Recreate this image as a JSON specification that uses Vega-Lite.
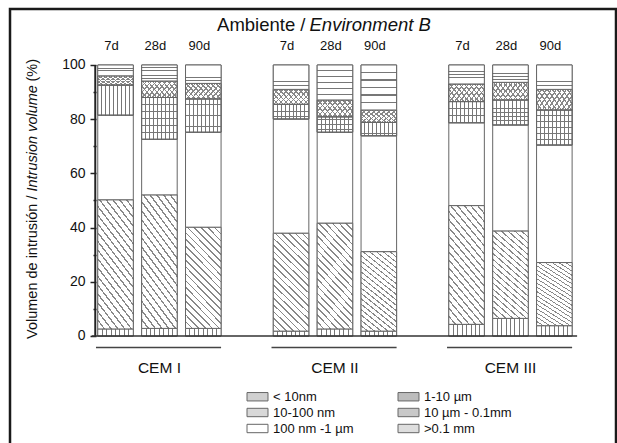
{
"$schema":"https://vega.github.io/schema/vega-lite/v6.json",
"width":606,"height":439,
"padding":{"left":10,"top":9,"right":1,"bottom":0},
"autosize":{"type":"none"},
"background":"white",
"config":{"view":{"stroke":"#1a1a1a","strokeWidth":2.5},"font":"Liberation Sans","axis":{"labelFont":"Liberation Sans","titleFont":"Liberation Sans"},"legend":{"labelFont":"Liberation Sans"}},
"datasets":{"d":[
{"slot":"CEM I|7d","size":"< 10nm","k":1,"v":2.6},{"slot":"CEM I|7d","size":"10-100 nm","k":2,"v":47.6},{"slot":"CEM I|7d","size":"100 nm -1 µm","k":3,"v":31.3},{"slot":"CEM I|7d","size":"1-10 µm","k":4,"v":11.1},{"slot":"CEM I|7d","size":"10 µm - 0.1mm","k":5,"v":3.4},{"slot":"CEM I|7d","size":">0.1 mm","k":6,"v":4.0},
{"slot":"CEM I|28d","size":"< 10nm","k":1,"v":2.8},{"slot":"CEM I|28d","size":"10-100 nm","k":2,"v":49.2},{"slot":"CEM I|28d","size":"100 nm -1 µm","k":3,"v":20.6},{"slot":"CEM I|28d","size":"1-10 µm","k":4,"v":15.4},{"slot":"CEM I|28d","size":"10 µm - 0.1mm","k":5,"v":6.1},{"slot":"CEM I|28d","size":">0.1 mm","k":6,"v":5.9},
{"slot":"CEM I|90d","size":"< 10nm","k":1,"v":2.8},{"slot":"CEM I|90d","size":"10-100 nm","k":2,"v":37.3},{"slot":"CEM I|90d","size":"100 nm -1 µm","k":3,"v":35.1},{"slot":"CEM I|90d","size":"1-10 µm","k":4,"v":12.3},{"slot":"CEM I|90d","size":"10 µm - 0.1mm","k":5,"v":5.7},{"slot":"CEM I|90d","size":">0.1 mm","k":6,"v":6.8},
{"slot":"CEM II|7d","size":"< 10nm","k":1,"v":1.8},{"slot":"CEM II|7d","size":"10-100 nm","k":2,"v":36.1},{"slot":"CEM II|7d","size":"100 nm -1 µm","k":3,"v":42.2},{"slot":"CEM II|7d","size":"1-10 µm","k":4,"v":5.4},{"slot":"CEM II|7d","size":"10 µm - 0.1mm","k":5,"v":5.5},{"slot":"CEM II|7d","size":">0.1 mm","k":6,"v":9.0},
{"slot":"CEM II|28d","size":"< 10nm","k":1,"v":2.6},{"slot":"CEM II|28d","size":"10-100 nm","k":2,"v":39.0},{"slot":"CEM II|28d","size":"100 nm -1 µm","k":3,"v":33.6},{"slot":"CEM II|28d","size":"1-10 µm","k":4,"v":5.7},{"slot":"CEM II|28d","size":"10 µm - 0.1mm","k":5,"v":6.2},{"slot":"CEM II|28d","size":">0.1 mm","k":6,"v":12.9},
{"slot":"CEM II|90d","size":"< 10nm","k":1,"v":1.8},{"slot":"CEM II|90d","size":"10-100 nm","k":2,"v":29.3},{"slot":"CEM II|90d","size":"100 nm -1 µm","k":3,"v":42.8},{"slot":"CEM II|90d","size":"1-10 µm","k":4,"v":4.9},{"slot":"CEM II|90d","size":"10 µm - 0.1mm","k":5,"v":4.6},{"slot":"CEM II|90d","size":">0.1 mm","k":6,"v":16.6},
{"slot":"CEM III|7d","size":"< 10nm","k":1,"v":4.3},{"slot":"CEM III|7d","size":"10-100 nm","k":2,"v":43.8},{"slot":"CEM III|7d","size":"100 nm -1 µm","k":3,"v":30.6},{"slot":"CEM III|7d","size":"1-10 µm","k":4,"v":7.8},{"slot":"CEM III|7d","size":"10 µm - 0.1mm","k":5,"v":6.5},{"slot":"CEM III|7d","size":">0.1 mm","k":6,"v":7.0},
{"slot":"CEM III|28d","size":"< 10nm","k":1,"v":6.5},{"slot":"CEM III|28d","size":"10-100 nm","k":2,"v":32.2},{"slot":"CEM III|28d","size":"100 nm -1 µm","k":3,"v":39.2},{"slot":"CEM III|28d","size":"1-10 µm","k":4,"v":9.2},{"slot":"CEM III|28d","size":"10 µm - 0.1mm","k":5,"v":6.5},{"slot":"CEM III|28d","size":">0.1 mm","k":6,"v":6.4},
{"slot":"CEM III|90d","size":"< 10nm","k":1,"v":3.8},{"slot":"CEM III|90d","size":"10-100 nm","k":2,"v":23.3},{"slot":"CEM III|90d","size":"100 nm -1 µm","k":3,"v":43.4},{"slot":"CEM III|90d","size":"1-10 µm","k":4,"v":12.9},{"slot":"CEM III|90d","size":"10 µm - 0.1mm","k":5,"v":7.6},{"slot":"CEM III|90d","size":">0.1 mm","k":6,"v":9.0}
]},
"layer":[
{
"data":{"name":"d"},
"transform":[{"stack":"v","groupby":["slot"],"sort":[{"field":"k","order":"ascending"}],"as":["y0","y1"]}],
"mark":{"type":"bar","stroke":"#666","strokeWidth":1},
"encoding":{
"x":{"field":"slot","type":"nominal","sort":null,
"scale":{"domain":["pad1","pad2","CEM I|7d","CEM I|28d","CEM I|90d","gap1","CEM II|7d","CEM II|28d","CEM II|90d","gap2","CEM III|7d","CEM III|28d","CEM III|90d","pad3"],"paddingInner":0.19,"paddingOuter":0,"align":0.5},
"axis":{"orient":"top","offset":-42,"domain":false,"ticks":false,"grid":false,"labelPadding":2,"labelBaseline":"alphabetic","labelAngle":0,"labelFontSize":13,"labelColor":"#111","labelOffset":-4,"labelExpr":"indexof(datum.label,'|') > 0 ? slice(datum.label, indexof(datum.label,'|') + 1) : ''","title":null}},
"y":{"field":"y0","type":"quantitative","scale":{"domain":[-41.33,120.66],"nice":false,"zero":false},
"axis":{"orient":"left","offset":-86,"values":[0,20,40,60,80,100],"domain":false,"grid":false,"ticks":true,"tickSize":6,"tickColor":"#222","tickWidth":1.5,"labelPadding":5,"labelFontSize":14,"labelColor":"#111","title":null}},
"y2":{"field":"y1"},
"fill":{"field":"size","type":"nominal",
"scale":{"domain":["< 10nm","10-100 nm","100 nm -1 µm","1-10 µm","10 µm - 0.1mm",">0.1 mm"],"range":["#d0d0d0","#d8d8d8","#ffffff","#bdbdbd","#c8c8c8","#dedede"]},
"legend":{"orient":"none","legendX":241,"legendY":381,"columns":2,"columnPadding":42,"rowPadding":2,"symbolType":"M-2,-0.8H2V0.8H-2Z","symbolSize":110,"symbolStrokeColor":"#666","symbolStrokeWidth":1,"symbolOpacity":1,"labelFontSize":13,"labelOffset":9,"labelColor":"#111","title":null}}
}
},
{
"data":{"name":"d"},
"transform":[{"stack":"v","groupby":["slot"],"sort":[{"field":"k","order":"ascending"}],"as":["y0","y1"]},{"filter":"datum.k == 1"}],
"mark":{"type":"bar","stroke":"#666","strokeWidth":1,"fill":{"gradient":"linear","x1":0,"y1":0,"x2":1,"y2":0,"stops":[{"offset":0,"color":"#fff"},{"offset":0.111,"color":"#fff"},{"offset":0.111,"color":"#777"},{"offset":0.139,"color":"#777"},{"offset":0.139,"color":"#fff"},{"offset":0.236,"color":"#fff"},{"offset":0.236,"color":"#777"},{"offset":0.264,"color":"#777"},{"offset":0.264,"color":"#fff"},{"offset":0.361,"color":"#fff"},{"offset":0.361,"color":"#777"},{"offset":0.389,"color":"#777"},{"offset":0.389,"color":"#fff"},{"offset":0.486,"color":"#fff"},{"offset":0.486,"color":"#777"},{"offset":0.514,"color":"#777"},{"offset":0.514,"color":"#fff"},{"offset":0.611,"color":"#fff"},{"offset":0.611,"color":"#777"},{"offset":0.639,"color":"#777"},{"offset":0.639,"color":"#fff"},{"offset":0.736,"color":"#fff"},{"offset":0.736,"color":"#777"},{"offset":0.764,"color":"#777"},{"offset":0.764,"color":"#fff"},{"offset":0.861,"color":"#fff"},{"offset":0.861,"color":"#777"},{"offset":0.889,"color":"#777"},{"offset":0.889,"color":"#fff"},{"offset":1,"color":"#fff"}]}},
"encoding":{
"x":{"field":"slot","type":"nominal","sort":null,"axis":{"orient":"top","offset":0,"labels":false,"ticks":false,"domain":false,"grid":false,"title":"Ambiente /","titleX":295,"titleY":21,"titleAlign":"right","titleBaseline":"alphabetic","titleAngle":0,"titleFontSize":18.5,"titleFontWeight":"normal","titleColor":"#111"}},
"y":{"field":"y0","type":"quantitative","axis":{"orient":"left","offset":0,"labels":false,"ticks":false,"domain":false,"grid":false,"title":"Volumen de intrusión /","titleX":26,"titleY":186,"titleAlign":"right","titleBaseline":"alphabetic","titleAngle":-90,"titleFontSize":14.5,"titleFontWeight":"normal","titleColor":"#111"}},
"y2":{"field":"y1"}
}
},
{
"data":{"name":"d"},
"transform":[{"stack":"v","groupby":["slot"],"sort":[{"field":"k","order":"ascending"}],"as":["y0","y1"]},{"filter":"datum.k == 2"}],
"mark":{"type":"bar","stroke":"#666","strokeWidth":1,"fill":{"gradient":"linear","x1":0,"y1":1,"x2":0.43,"y2":-0.204,"stops":[{"offset":0,"color":"#fff"},{"offset":0.044,"color":"#fff"},{"offset":0.044,"color":"#888"},{"offset":0.056,"color":"#888"},{"offset":0.056,"color":"#fff"},{"offset":0.094,"color":"#fff"},{"offset":0.094,"color":"#888"},{"offset":0.106,"color":"#888"},{"offset":0.106,"color":"#fff"},{"offset":0.144,"color":"#fff"},{"offset":0.144,"color":"#888"},{"offset":0.156,"color":"#888"},{"offset":0.156,"color":"#fff"},{"offset":0.194,"color":"#fff"},{"offset":0.194,"color":"#888"},{"offset":0.206,"color":"#888"},{"offset":0.206,"color":"#fff"},{"offset":0.244,"color":"#fff"},{"offset":0.244,"color":"#888"},{"offset":0.256,"color":"#888"},{"offset":0.256,"color":"#fff"},{"offset":0.294,"color":"#fff"},{"offset":0.294,"color":"#888"},{"offset":0.306,"color":"#888"},{"offset":0.306,"color":"#fff"},{"offset":0.344,"color":"#fff"},{"offset":0.344,"color":"#888"},{"offset":0.356,"color":"#888"},{"offset":0.356,"color":"#fff"},{"offset":0.394,"color":"#fff"},{"offset":0.394,"color":"#888"},{"offset":0.406,"color":"#888"},{"offset":0.406,"color":"#fff"},{"offset":0.444,"color":"#fff"},{"offset":0.444,"color":"#888"},{"offset":0.456,"color":"#888"},{"offset":0.456,"color":"#fff"},{"offset":0.494,"color":"#fff"},{"offset":0.494,"color":"#888"},{"offset":0.506,"color":"#888"},{"offset":0.506,"color":"#fff"},{"offset":0.544,"color":"#fff"},{"offset":0.544,"color":"#888"},{"offset":0.556,"color":"#888"},{"offset":0.556,"color":"#fff"},{"offset":0.594,"color":"#fff"},{"offset":0.594,"color":"#888"},{"offset":0.606,"color":"#888"},{"offset":0.606,"color":"#fff"},{"offset":0.644,"color":"#fff"},{"offset":0.644,"color":"#888"},{"offset":0.656,"color":"#888"},{"offset":0.656,"color":"#fff"},{"offset":0.694,"color":"#fff"},{"offset":0.694,"color":"#888"},{"offset":0.706,"color":"#888"},{"offset":0.706,"color":"#fff"},{"offset":0.744,"color":"#fff"},{"offset":0.744,"color":"#888"},{"offset":0.756,"color":"#888"},{"offset":0.756,"color":"#fff"},{"offset":0.794,"color":"#fff"},{"offset":0.794,"color":"#888"},{"offset":0.806,"color":"#888"},{"offset":0.806,"color":"#fff"},{"offset":0.844,"color":"#fff"},{"offset":0.844,"color":"#888"},{"offset":0.856,"color":"#888"},{"offset":0.856,"color":"#fff"},{"offset":0.894,"color":"#fff"},{"offset":0.894,"color":"#888"},{"offset":0.906,"color":"#888"},{"offset":0.906,"color":"#fff"},{"offset":0.944,"color":"#fff"},{"offset":0.944,"color":"#888"},{"offset":0.956,"color":"#888"},{"offset":0.956,"color":"#fff"},{"offset":1,"color":"#fff"}]}},
"encoding":{
"x":{"field":"slot","type":"nominal","sort":null,"axis":{"orient":"top","offset":0,"labels":false,"ticks":false,"domain":false,"grid":false,"title":"Environment B","titleX":299,"titleY":21,"titleAlign":"left","titleBaseline":"alphabetic","titleAngle":0,"titleFontSize":18.5,"titleFontWeight":"normal","titleFontStyle":"italic","titleColor":"#111"}},
"y":{"field":"y0","type":"quantitative","axis":{"orient":"left","offset":0,"labels":false,"ticks":false,"domain":false,"grid":false,"title":"Intrusion volume","titleX":26,"titleY":182,"titleAlign":"left","titleBaseline":"alphabetic","titleAngle":-90,"titleFontSize":14.5,"titleFontWeight":"normal","titleFontStyle":"italic","titleColor":"#111"}},
"y2":{"field":"y1"}
}
},
{
"data":{"name":"d"},
"transform":[{"stack":"v","groupby":["slot"],"sort":[{"field":"k","order":"ascending"}],"as":["y0","y1"]},{"filter":"datum.k == 4"}],
"mark":{"type":"bar","stroke":"#666","strokeWidth":1,"fill":{"gradient":"linear","x1":0,"y1":0,"x2":1,"y2":0,"stops":[{"offset":0,"color":"#fff"},{"offset":0.097,"color":"#fff"},{"offset":0.097,"color":"#777"},{"offset":0.125,"color":"#777"},{"offset":0.125,"color":"#fff"},{"offset":0.208,"color":"#fff"},{"offset":0.208,"color":"#777"},{"offset":0.236,"color":"#777"},{"offset":0.236,"color":"#fff"},{"offset":0.319,"color":"#fff"},{"offset":0.319,"color":"#777"},{"offset":0.347,"color":"#777"},{"offset":0.347,"color":"#fff"},{"offset":0.43,"color":"#fff"},{"offset":0.43,"color":"#777"},{"offset":0.458,"color":"#777"},{"offset":0.458,"color":"#fff"},{"offset":0.542,"color":"#fff"},{"offset":0.542,"color":"#777"},{"offset":0.57,"color":"#777"},{"offset":0.57,"color":"#fff"},{"offset":0.653,"color":"#fff"},{"offset":0.653,"color":"#777"},{"offset":0.681,"color":"#777"},{"offset":0.681,"color":"#fff"},{"offset":0.764,"color":"#fff"},{"offset":0.764,"color":"#777"},{"offset":0.792,"color":"#777"},{"offset":0.792,"color":"#fff"},{"offset":0.875,"color":"#fff"},{"offset":0.875,"color":"#777"},{"offset":0.903,"color":"#777"},{"offset":0.903,"color":"#fff"},{"offset":1,"color":"#fff"}]}},
"encoding":{
"x":{"field":"slot","type":"nominal","sort":null,"axis":null},
"y":{"field":"y0","type":"quantitative","axis":null},
"y2":{"field":"y1"}
}
},
{
"data":{"name":"d"},
"transform":[{"stack":"v","groupby":["slot"],"sort":[{"field":"k","order":"ascending"}],"as":["y0","y1"]},{"filter":"datum.k == 4"}],
"mark":{"type":"bar","stroke":"#666","strokeWidth":1,"fill":{"gradient":"linear","x1":0,"y1":0,"x2":0,"y2":1,"stops":[{"offset":0,"color":"rgba(255,255,255,0)"},{"offset":0.155,"color":"rgba(255,255,255,0)"},{"offset":0.155,"color":"#777"},{"offset":0.179,"color":"#777"},{"offset":0.179,"color":"rgba(255,255,255,0)"},{"offset":0.321,"color":"rgba(255,255,255,0)"},{"offset":0.321,"color":"#777"},{"offset":0.345,"color":"#777"},{"offset":0.345,"color":"rgba(255,255,255,0)"},{"offset":0.488,"color":"rgba(255,255,255,0)"},{"offset":0.488,"color":"#777"},{"offset":0.512,"color":"#777"},{"offset":0.512,"color":"rgba(255,255,255,0)"},{"offset":0.655,"color":"rgba(255,255,255,0)"},{"offset":0.655,"color":"#777"},{"offset":0.679,"color":"#777"},{"offset":0.679,"color":"rgba(255,255,255,0)"},{"offset":0.821,"color":"rgba(255,255,255,0)"},{"offset":0.821,"color":"#777"},{"offset":0.845,"color":"#777"},{"offset":0.845,"color":"rgba(255,255,255,0)"},{"offset":1,"color":"rgba(255,255,255,0)"}]}},
"encoding":{
"x":{"field":"slot","type":"nominal","sort":null,"axis":null},
"y":{"field":"y0","type":"quantitative","axis":null},
"y2":{"field":"y1"}
}
},
{
"data":{"name":"d"},
"transform":[{"stack":"v","groupby":["slot"],"sort":[{"field":"k","order":"ascending"}],"as":["y0","y1"]},{"filter":"datum.k == 5"}],
"mark":{"type":"bar","stroke":"#666","strokeWidth":1,"fill":{"gradient":"linear","x1":0,"y1":1,"x2":1.207,"y2":0.517,"stops":[{"offset":0,"color":"#fff"},{"offset":0.085,"color":"#fff"},{"offset":0.085,"color":"#888"},{"offset":0.115,"color":"#888"},{"offset":0.115,"color":"#fff"},{"offset":0.185,"color":"#fff"},{"offset":0.185,"color":"#888"},{"offset":0.215,"color":"#888"},{"offset":0.215,"color":"#fff"},{"offset":0.285,"color":"#fff"},{"offset":0.285,"color":"#888"},{"offset":0.315,"color":"#888"},{"offset":0.315,"color":"#fff"},{"offset":0.385,"color":"#fff"},{"offset":0.385,"color":"#888"},{"offset":0.415,"color":"#888"},{"offset":0.415,"color":"#fff"},{"offset":0.485,"color":"#fff"},{"offset":0.485,"color":"#888"},{"offset":0.515,"color":"#888"},{"offset":0.515,"color":"#fff"},{"offset":0.585,"color":"#fff"},{"offset":0.585,"color":"#888"},{"offset":0.615,"color":"#888"},{"offset":0.615,"color":"#fff"},{"offset":0.685,"color":"#fff"},{"offset":0.685,"color":"#888"},{"offset":0.715,"color":"#888"},{"offset":0.715,"color":"#fff"},{"offset":0.785,"color":"#fff"},{"offset":0.785,"color":"#888"},{"offset":0.815,"color":"#888"},{"offset":0.815,"color":"#fff"},{"offset":0.885,"color":"#fff"},{"offset":0.885,"color":"#888"},{"offset":0.915,"color":"#888"},{"offset":0.915,"color":"#fff"},{"offset":1,"color":"#fff"}]}},
"encoding":{
"x":{"field":"slot","type":"nominal","sort":null,"axis":null},
"y":{"field":"y0","type":"quantitative","axis":null},
"y2":{"field":"y1"}
}
},
{
"data":{"name":"d"},
"transform":[{"stack":"v","groupby":["slot"],"sort":[{"field":"k","order":"ascending"}],"as":["y0","y1"]},{"filter":"datum.k == 5"}],
"mark":{"type":"bar","stroke":"#666","strokeWidth":1,"fill":{"gradient":"linear","x1":0,"y1":0,"x2":1.207,"y2":0.483,"stops":[{"offset":0,"color":"rgba(255,255,255,0)"},{"offset":0.085,"color":"rgba(255,255,255,0)"},{"offset":0.085,"color":"#888"},{"offset":0.115,"color":"#888"},{"offset":0.115,"color":"rgba(255,255,255,0)"},{"offset":0.185,"color":"rgba(255,255,255,0)"},{"offset":0.185,"color":"#888"},{"offset":0.215,"color":"#888"},{"offset":0.215,"color":"rgba(255,255,255,0)"},{"offset":0.285,"color":"rgba(255,255,255,0)"},{"offset":0.285,"color":"#888"},{"offset":0.315,"color":"#888"},{"offset":0.315,"color":"rgba(255,255,255,0)"},{"offset":0.385,"color":"rgba(255,255,255,0)"},{"offset":0.385,"color":"#888"},{"offset":0.415,"color":"#888"},{"offset":0.415,"color":"rgba(255,255,255,0)"},{"offset":0.485,"color":"rgba(255,255,255,0)"},{"offset":0.485,"color":"#888"},{"offset":0.515,"color":"#888"},{"offset":0.515,"color":"rgba(255,255,255,0)"},{"offset":0.585,"color":"rgba(255,255,255,0)"},{"offset":0.585,"color":"#888"},{"offset":0.615,"color":"#888"},{"offset":0.615,"color":"rgba(255,255,255,0)"},{"offset":0.685,"color":"rgba(255,255,255,0)"},{"offset":0.685,"color":"#888"},{"offset":0.715,"color":"#888"},{"offset":0.715,"color":"rgba(255,255,255,0)"},{"offset":0.785,"color":"rgba(255,255,255,0)"},{"offset":0.785,"color":"#888"},{"offset":0.815,"color":"#888"},{"offset":0.815,"color":"rgba(255,255,255,0)"},{"offset":0.885,"color":"rgba(255,255,255,0)"},{"offset":0.885,"color":"#888"},{"offset":0.915,"color":"#888"},{"offset":0.915,"color":"rgba(255,255,255,0)"},{"offset":1,"color":"rgba(255,255,255,0)"}]}},
"encoding":{
"x":{"field":"slot","type":"nominal","sort":null,"axis":null},
"y":{"field":"y0","type":"quantitative","axis":null},
"y2":{"field":"y1"}
}
},
{
"data":{"name":"d"},
"transform":[{"stack":"v","groupby":["slot"],"sort":[{"field":"k","order":"ascending"}],"as":["y0","y1"]},{"filter":"datum.k == 6"}],
"mark":{"type":"bar","stroke":"#666","strokeWidth":1,"fill":{"gradient":"linear","x1":0,"y1":0,"x2":0,"y2":1,"stops":[{"offset":0,"color":"#fff"},{"offset":0.155,"color":"#fff"},{"offset":0.155,"color":"#777"},{"offset":0.179,"color":"#777"},{"offset":0.179,"color":"#fff"},{"offset":0.321,"color":"#fff"},{"offset":0.321,"color":"#777"},{"offset":0.345,"color":"#777"},{"offset":0.345,"color":"#fff"},{"offset":0.488,"color":"#fff"},{"offset":0.488,"color":"#777"},{"offset":0.512,"color":"#777"},{"offset":0.512,"color":"#fff"},{"offset":0.655,"color":"#fff"},{"offset":0.655,"color":"#777"},{"offset":0.679,"color":"#777"},{"offset":0.679,"color":"#fff"},{"offset":0.821,"color":"#fff"},{"offset":0.821,"color":"#777"},{"offset":0.845,"color":"#777"},{"offset":0.845,"color":"#fff"},{"offset":1,"color":"#fff"}]}},
"encoding":{
"x":{"field":"slot","type":"nominal","sort":null,"axis":null},
"y":{"field":"y0","type":"quantitative","axis":null},
"y2":{"field":"y1"}
}
},
{
"data":{"values":[{"line":"y axis"}]},
"mark":{"type":"rule","stroke":"#222","strokeWidth":2},
"encoding":{
"x":{"datum":"CEM I|7d","type":"nominal","bandPosition":-0.07,"axis":null},
"y":{"datum":0,"type":"quantitative","axis":{"orient":"left","offset":-86,"values":[10,30,50,70,90],"labels":false,"ticks":true,"tickSize":3,"tickColor":"#222","tickWidth":1.5,"domain":false,"grid":false,"title":null}},
"y2":{"datum":100}
}
},
{
"data":{"values":[{"line":"baseline"}]},
"mark":{"type":"rule","stroke":"#333","strokeWidth":1.5},
"encoding":{
"x":{"datum":"CEM I|7d","type":"nominal","bandPosition":-0.17,"axis":{"orient":"bottom","offset":-112,"domain":false,"ticks":false,"grid":false,"labelPadding":24,"labelAngle":0,"labelFontSize":15.5,"labelColor":"#111","labelExpr":"indexof(datum.label,'|28d') > 0 ? slice(datum.label, 0, indexof(datum.label,'|')) : ''","title":null}},
"x2":{"datum":"CEM III|90d","bandPosition":1.14},
"y":{"datum":0,"type":"quantitative","axis":{"orient":"left","offset":0,"labels":false,"ticks":false,"domain":false,"grid":false,"title":"(%)","titleX":26,"titleY":72,"titleAlign":"left","titleBaseline":"alphabetic","titleAngle":-90,"titleFontSize":14.5,"titleFontWeight":"normal","titleColor":"#111"}}
}
},
{
"data":{"values":[{"cem":"CEM I","first":"CEM I|7d","last":"CEM I|90d"},{"cem":"CEM II","first":"CEM II|7d","last":"CEM II|90d"},{"cem":"CEM III","first":"CEM III|7d","last":"CEM III|90d"}]},
"mark":{"type":"rule","stroke":"#444","strokeWidth":1.5},
"encoding":{
"x":{"field":"first","type":"nominal","bandPosition":-0.05,"axis":null},
"x2":{"field":"last","bandPosition":1},
"y":{"datum":-4.2,"type":"quantitative","axis":null}
}
}
],
"resolve":{"axis":{"x":"independent","y":"independent"}}
}
